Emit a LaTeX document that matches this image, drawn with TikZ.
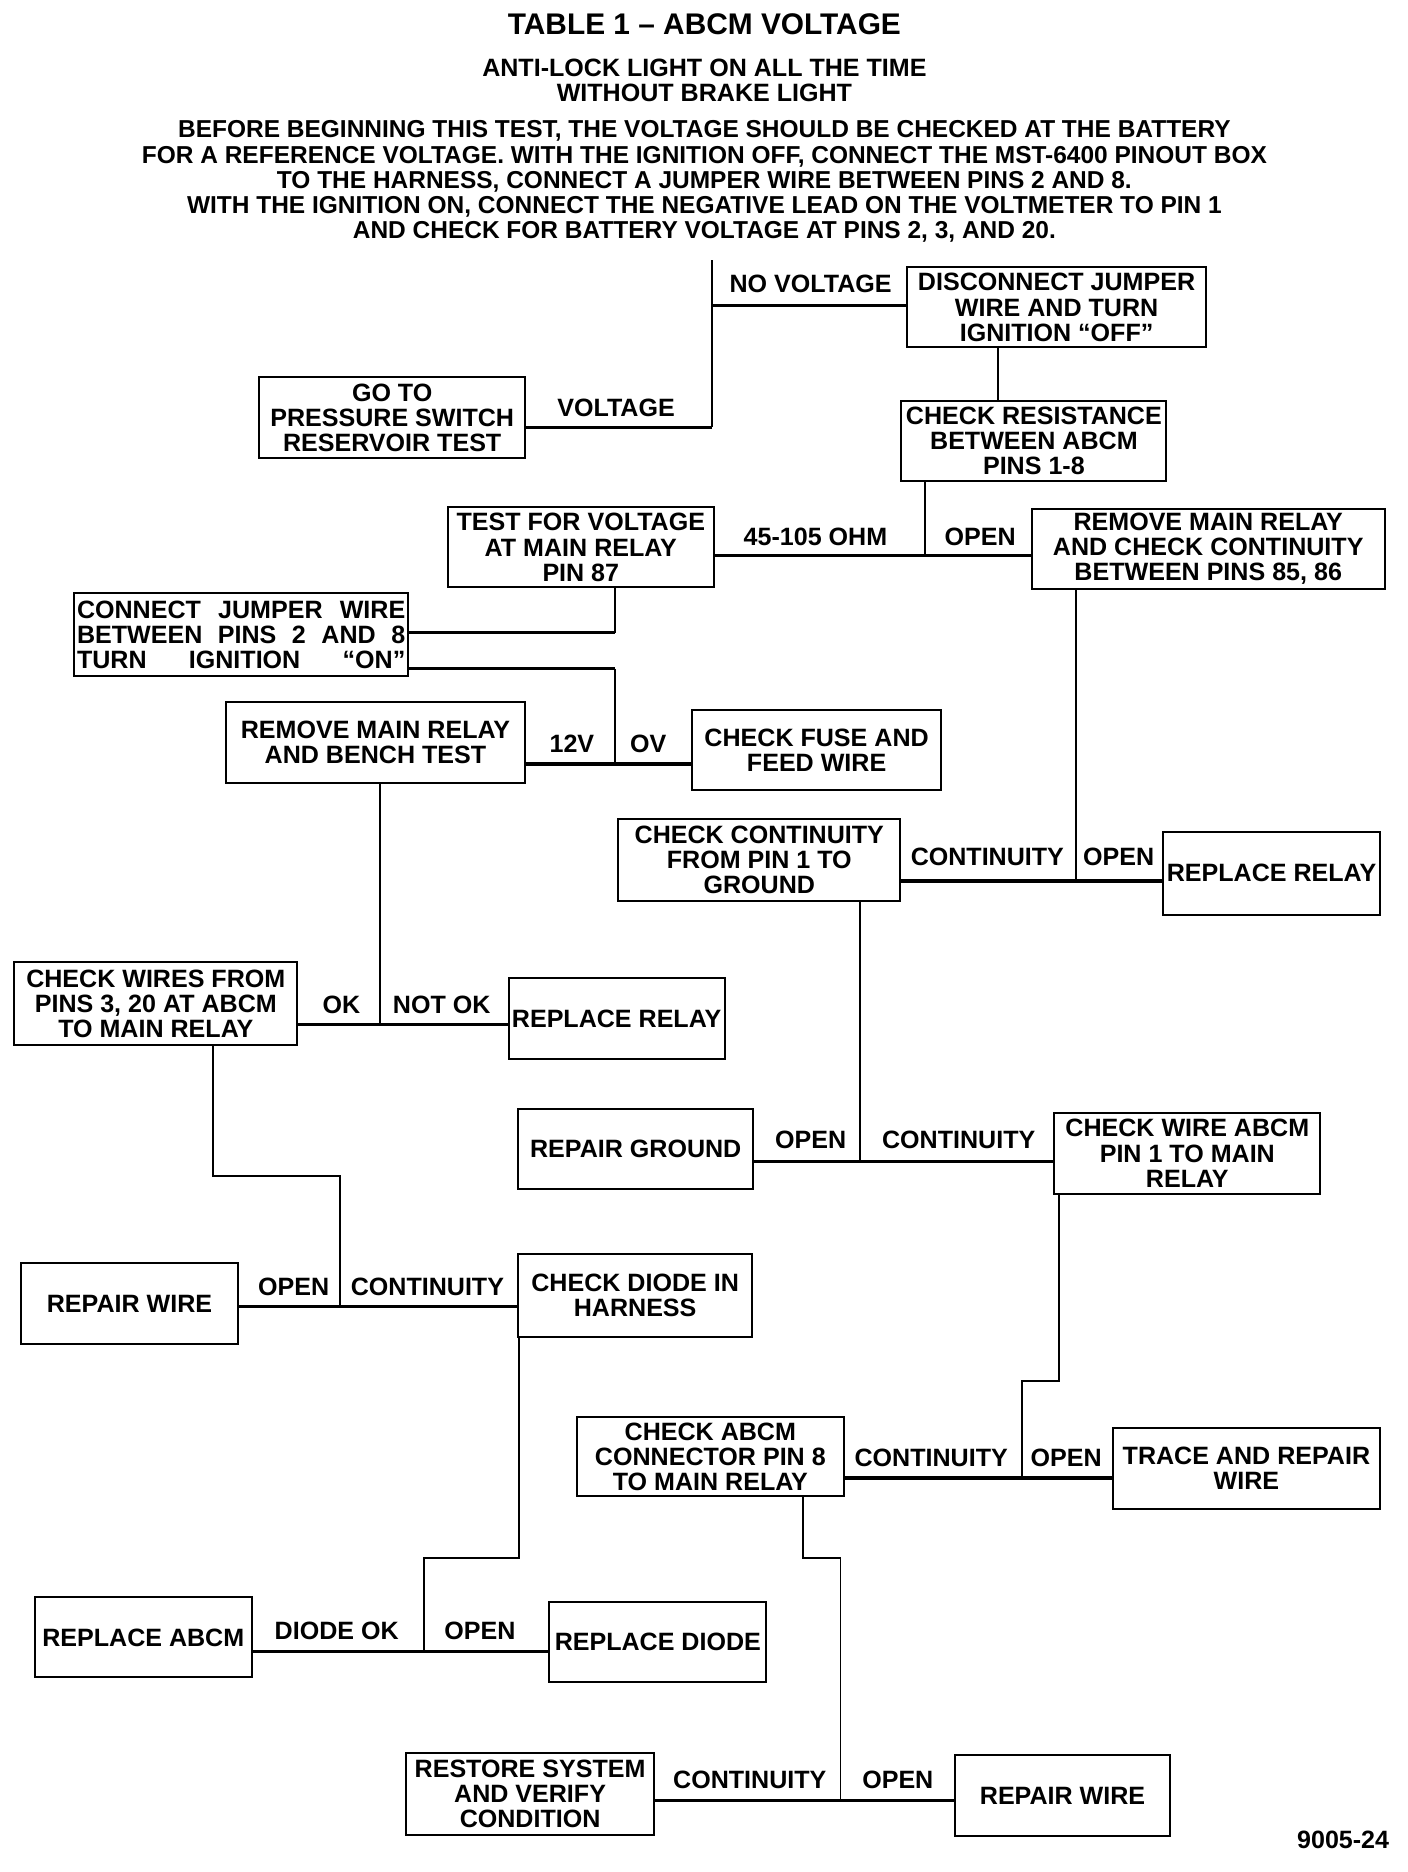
\documentclass[tikz,border=0pt]{standalone}
\usepackage{fontspec}
\setmainfont{Liberation Sans}
\usetikzlibrary{positioning, calc}

\begin{document}
\begin{tikzpicture}[
        x=0.6pt, y=-0.6pt,
        font=\bfseries\fontsize{12.6}{12.6}\selectfont,
        box/.style={rectangle, draw=black, line width=1pt, inner sep=0pt,
                    align=center},
        ttl/.style={font=\bfseries\fontsize{15}{15}\selectfont, inner sep=0pt},
        txt/.style={align=center, inner sep=0pt},
        lbl/.style={inner sep=0pt},
        vl/.style={draw=black, line width=1pt},
        hl/.style={draw=black, line width=1.6pt}
    ]
    \useasboundingbox (0,0) rectangle (1179,1568);

    % Heading and instructions
    \node[ttl] (title) at (590,20) {TABLE 1 -- ABCM VOLTAGE};
    \node[txt] (symptom) at (590,67) {ANTI-LOCK LIGHT ON ALL THE TIME\\WITHOUT BRAKE LIGHT};
    \node[txt, font=\bfseries\fontsize{12.3}{12.6}\selectfont] (intro) at (590,152)
        {BEFORE BEGINNING THIS TEST, THE VOLTAGE SHOULD BE CHECKED AT THE BATTERY\\
         FOR A REFERENCE VOLTAGE. WITH THE IGNITION OFF, CONNECT THE MST-6400 PINOUT BOX\\
         TO THE HARNESS, CONNECT A JUMPER WIRE BETWEEN PINS 2 AND 8.\\
         WITH THE IGNITION ON, CONNECT THE NEGATIVE LEAD ON THE VOLTMETER TO PIN 1\\
         AND CHECK FOR BATTERY VOLTAGE AT PINS 2, 3, AND 20.};

    % Boxes, top to bottom
    \node[box, minimum width=150pt,   minimum height=40.2pt] (disc)     at (885,257.5)  {DISCONNECT JUMPER\\WIRE AND TURN\\IGNITION ``OFF''};
    \node[box, minimum width=133.8pt, minimum height=40.8pt] (goto)     at (328.5,350)  {GO TO\\PRESSURE SWITCH\\RESERVOIR TEST};
    \node[box, minimum width=133.2pt, minimum height=40.2pt] (chkres)   at (866,369.5)  {CHECK RESISTANCE\\BETWEEN ABCM\\PINS 1-8};
    \node[box, minimum width=133.8pt, minimum height=40.2pt] (testv)    at (486.5,458.5){TEST FOR VOLTAGE\\AT MAIN RELAY\\PIN 87};
    \node[box, minimum width=177.6pt, minimum height=40.2pt] (remcont)  at (1012,459.5) {REMOVE MAIN RELAY\\AND CHECK CONTINUITY\\BETWEEN PINS 85, 86};
    \node[box, minimum width=168pt,   minimum height=41.4pt] (jumper)   at (202,531.5)
        {\makebox[165pt][s]{CONNECT JUMPER WIRE}\\\makebox[165pt][s]{BETWEEN PINS 2 AND 8}\\\makebox[165pt][s]{TURN IGNITION ``ON''}};
    \node[box, minimum width=150.6pt, minimum height=40.8pt] (bench)    at (314.5,622)  {REMOVE MAIN RELAY\\AND BENCH TEST};
    \node[box, minimum width=124.8pt, minimum height=40.2pt] (fuse)     at (684,628.5)  {CHECK FUSE AND\\FEED WIRE};
    \node[box, minimum width=141.6pt, minimum height=41.4pt] (contgnd)  at (636,720.5)  {CHECK CONTINUITY\\FROM PIN 1 TO\\GROUND};
    \node[box, minimum width=109.2pt, minimum height=41.4pt] (relayR)   at (1065,731.5) {REPLACE RELAY};
    \node[box, minimum width=142.2pt, minimum height=41.4pt] (wires)    at (130.5,840.5){CHECK WIRES FROM\\PINS 3, 20 AT ABCM\\TO MAIN RELAY};
    \node[box, minimum width=108.6pt, minimum height=40.8pt] (relayM)   at (516.5,853)  {REPLACE RELAY};
    \node[box, minimum width=118.2pt, minimum height=40.2pt] (gnd)      at (532.5,962.5){REPAIR GROUND};
    \node[box, minimum width=133.8pt, minimum height=40.8pt] (wireabcm) at (994.5,966)  {CHECK WIRE ABCM\\PIN 1 TO MAIN\\RELAY};
    \node[box, minimum width=108.6pt, minimum height=40.8pt] (repwireL) at (108.5,1092) {REPAIR WIRE};
    \node[box, minimum width=117.6pt, minimum height=42pt]   (diode)    at (532,1085)   {CHECK DIODE IN\\HARNESS};
    \node[box, minimum width=134.4pt, minimum height=39.6pt] (connpin)  at (595,1220)   {CHECK ABCM\\CONNECTOR PIN 8\\TO MAIN RELAY};
    \node[box, minimum width=134.4pt, minimum height=40.8pt] (trace)    at (1044,1230)  {TRACE AND REPAIR\\WIRE};
    \node[box, minimum width=109.2pt, minimum height=40.2pt] (rabcm)    at (120,1371.5) {REPLACE ABCM};
    \node[box, minimum width=109.2pt, minimum height=40.2pt] (rdiode)   at (551,1375.5) {REPLACE DIODE};
    \node[box, minimum width=124.8pt, minimum height=41.4pt] (restore)  at (444,1502.5) {RESTORE SYSTEM\\AND VERIFY\\CONDITION};
    \node[box, minimum width=108pt,   minimum height=40.8pt] (repwireR) at (890,1504)   {REPAIR WIRE};

    % Junction points
    \coordinate (j1top) at (596,218);
    \coordinate (j1a)   at (596,256);
    \coordinate (j1b)   at (596,358);
    \coordinate (x2)    at (836,300);
    \coordinate (j3)    at (775,465);
    \coordinate (j4)    at (515,530);
    \coordinate (j5a)   at (515,560);
    \coordinate (j5b)   at (515,640);
    \coordinate (j6)    at (901,738);
    \coordinate (j7)    at (318,858);
    \coordinate (j8)    at (720,973);
    \coordinate (k9a)   at (178,985);
    \coordinate (k9b)   at (285,985);
    \coordinate (j9)    at (285,1094);
    \coordinate (k10a)  at (887,1157);
    \coordinate (k10b)  at (856,1157);
    \coordinate (j10)   at (856,1238);
    \coordinate (k11a)  at (435,1305);
    \coordinate (k11b)  at (355,1305);
    \coordinate (j11)   at (355,1383);
    \coordinate (k12a)  at (673,1305);
    \coordinate (k12b)  at (704,1305);
    \coordinate (j12)   at (704,1508);

    % Battery voltage check
    \draw[vl] (j1top) -- (j1b);
    \draw[hl] (j1a) -- (disc.west |- j1a);
    \draw[hl] (goto.east |- j1b) -- (j1b);
    \node[lbl] (lNoVolt) at (679,238) {NO VOLTAGE};
    \node[lbl] (lVolt)   at (516,342) {VOLTAGE};

    % Resistance 1-8
    \draw[vl] (disc.south -| x2) -- (chkres.north -| x2);
    \draw[vl] (chkres.south -| j3) -- (j3);
    \draw[hl] (testv.east |- j3) -- (remcont.west |- j3);
    \node[lbl] (lOhm)   at (683,450) {45-105 OHM};
    \node[lbl] (lOpen3) at (821,450) {OPEN};

    % Voltage at pin 87
    \draw[vl] (testv.south -| j4) -- (j4);
    \draw[hl] (j4) -- (jumper.east |- j4);
    \draw[hl] (jumper.east |- j5a) -- (j5a);
    \draw[vl] (j5a) -- (j5b);
    \draw[hl] (bench.east |- j5b) -- (fuse.west |- j5b);
    \node[lbl] (l12v) at (479,623) {12V};
    \node[lbl] (l0v)  at (543,623) {OV};

    % Relay continuity 85, 86
    \draw[vl] (remcont.south -| j6) -- (j6);
    \draw[hl] (contgnd.east |- j6) -- (relayR.west |- j6);
    \node[lbl] (lCont6) at (827,718) {CONTINUITY};
    \node[lbl] (lOpen6) at (937,718) {OPEN};

    % Bench test
    \draw[vl] (bench.south -| j7) -- (j7);
    \draw[hl] (wires.east |- j7) -- (relayM.west |- j7);
    \node[lbl] (lOk)    at (286,842) {OK};
    \node[lbl] (lNotOk) at (370,842) {NOT OK};

    % Pin 1 to ground
    \draw[vl] (contgnd.south -| j8) -- (j8);
    \draw[hl] (gnd.east |- j8) -- (wireabcm.west |- j8);
    \node[lbl] (lOpen8) at (679,955) {OPEN};
    \node[lbl] (lCont8) at (803,955) {CONTINUITY};

    % Wires 3, 20
    \draw[vl] (wires.south -| k9a) -- (k9a) -- (k9b) -- (j9);
    \draw[hl] (repwireL.east |- j9) -- (diode.west |- j9);
    \node[lbl] (lOpen9) at (246,1078) {OPEN};
    \node[lbl] (lCont9) at (358,1078) {CONTINUITY};

    % Wire pin 1 to relay
    \draw[vl] (wireabcm.south -| k10a) -- (k10a) -- (k10b) -- (j10);
    \draw[hl] (connpin.east |- j10) -- (trace.west |- j10);
    \node[lbl] (lCont10) at (780,1221) {CONTINUITY};
    \node[lbl] (lOpen10) at (893,1221) {OPEN};

    % Diode in harness
    \draw[vl] (diode.south -| k11a) -- (k11a) -- (k11b) -- (j11);
    \draw[hl] (rabcm.east |- j11) -- (rdiode.west |- j11);
    \node[lbl] (lDiode)  at (282,1366) {DIODE OK};
    \node[lbl] (lOpen11) at (402,1366) {OPEN};

    % Connector pin 8
    \draw[vl] (connpin.south -| k12a) -- (k12a) -- (k12b) -- (j12);
    \draw[hl] (restore.east |- j12) -- (repwireR.west |- j12);
    \node[lbl] (lCont12) at (628,1491) {CONTINUITY};
    \node[lbl] (lOpen12) at (752,1491) {OPEN};

    \node[lbl] (figno) at (1125,1541) {9005-24};

\end{tikzpicture}
\end{document}
